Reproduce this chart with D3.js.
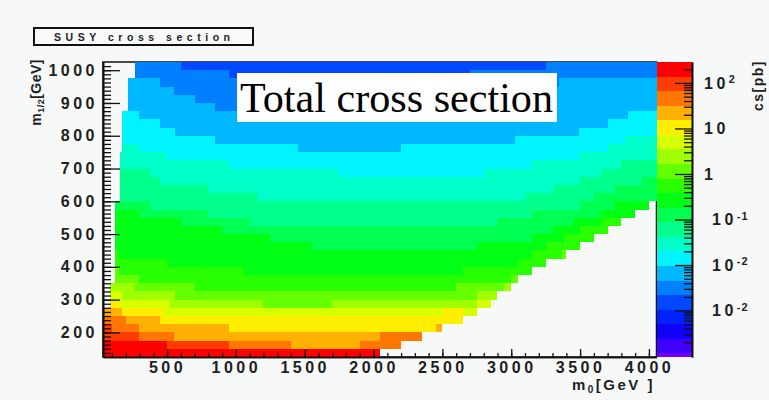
<!DOCTYPE html>
<html>
<head>
<meta charset="utf-8">
<script src="https://cdn.jsdelivr.net/npm/d3@7"></script>
<style>
  body { margin: 0; background: #f6f9f8; }
  svg { display: block; }
  .lbl { font-family: "Liberation Sans", Arial, sans-serif; font-weight: bold; font-size: 16px; fill: #1e1e1e; letter-spacing: 3.5px; }
</style>
</head>
<body>
<div id="chart"></div>
<script>
// axis ticks
const m0Ticks = [500, 1000, 1500, 2000, 2500, 3000, 3500, 4000];
const m12Ticks = [200, 300, 400, 500, 600, 700, 800, 900, 1000];
const csTicks = [1e2, 10, 1, 1e-1, 1e-2, 1e-3];
const csTickLabels = [['10', '2'], ['10', ''], ['1', ''], ['10', '-1'], ['10', '-2'], ['10', '-2']];

// m1/2 rows: lower edge of each 25 GeV row
const m12Rows = d3.range(125, 1025, 25);

// one entry per row (bottom to top): m0 start, then pairs of (contour level, m0 end)
// level 0 = lowest band of the palette, 20 = highest (red)
const rowSegments = [
  [35, 20, 2050],
  [35, 20, 500, 19, 950, 18, 1400, 17, 1900, 18, 2200],
  [35, 19, 300, 18, 550, 17, 2050, 18, 2350],
  [35, 19, 100, 18, 300, 17, 950, 16, 2450, 17, 2500],
  [35, 18, 200, 17, 450, 16, 2650],
  [35, 17, 170, 16, 480, 15, 2500, 16, 2650, 15, 2750],
  [85, 16, 160, 15, 520, 14, 1200, 13, 1700, 14, 2750, 15, 2850],
  [85, 15, 170, 14, 560, 13, 2750, 14, 2900],
  [85, 14, 270, 13, 700, 12, 2600, 13, 2950, 14, 3000],
  [120, 13, 300, 12, 3000, 13, 3050],
  [120, 13, 150, 12, 1050, 11, 2650, 12, 3150],
  [120, 12, 500, 11, 3050, 12, 3250],
  [120, 12, 150, 11, 3150, 12, 3370, 13, 3400],
  [120, 11, 1550, 10, 2750, 11, 3250, 12, 3500],
  [120, 11, 1250, 10, 3150, 11, 3380, 12, 3600],
  [120, 11, 900, 10, 3300, 11, 3500, 12, 3700],
  [120, 11, 600, 10, 1100, 9, 2900, 10, 3450, 11, 3650, 12, 3800],
  [120, 11, 300, 10, 800, 9, 3150, 10, 3650, 11, 3900],
  [120, 10, 375, 9, 3500, 10, 3750, 11, 4000],
  [160, 9, 1150, 8, 3100, 9, 3600, 10, 4055],
  [160, 9, 800, 8, 3300, 9, 3750, 10, 4055],
  [160, 9, 450, 8, 3500, 9, 3950, 10, 4055],
  [160, 9, 375, 8, 1750, 7, 2800, 8, 3650, 9, 4055],
  [160, 8, 950, 7, 3150, 8, 3800, 9, 4055],
  [160, 8, 500, 7, 3500, 8, 4055],
  [175, 8, 300, 7, 1450, 6, 2200, 7, 3700, 8, 4055],
  [175, 7, 850, 6, 3030, 7, 3825, 8, 4055],
  [175, 7, 560, 6, 3490, 7, 4055],
  [175, 7, 450, 6, 3700, 7, 4055],
  [175, 7, 300, 6, 3850, 7, 4055],
  [215, 6, 850, 5, 3000, 6, 4055],
  [215, 6, 700, 5, 3250, 6, 4055],
  [215, 6, 550, 5, 3250, 6, 4055],
  [215, 6, 450, 5, 3350, 6, 4055],
  [265, 5, 950, 4, 2700, 5, 4055],
  [265, 5, 600, 4, 3250, 5, 4055]
];

const palette = ['#7000ff', '#4000ff', '#1000ff', '#0022ff', '#0048ff', '#0080ff', '#00b8ff',
  '#00f4ff', '#00ffc8', '#00ff8c', '#00ff50', '#00ff14', '#28ff00', '#64ff00', '#a0ff00',
  '#d8ff00', '#ffee00', '#ffb000', '#ff7600', '#ff3c00', '#ff0000'];

const width = 769;
const height = 400;
const frame = { left: 103, right: 656.5, top: 62, bottom: 357 };
const bar = { left: 657, right: 692 };

// log10 range of the colour axis and its contour step
const zMinLog = -4.02;
const zMaxLog = 2.46;
const zStep = 0.32;
const zThresholds = d3.range(1, palette.length).map(k => zMaxLog - zStep * (palette.length - k));

const x = d3.scaleLinear().domain([35, 4055]).range([frame.left, frame.right]);
const y = d3.scaleLinear().domain([125, 1025]).range([frame.bottom, frame.top]);
const z = d3.scaleLog().domain([10 ** zMinLog, 10 ** zMaxLog]).range([frame.bottom, frame.top]);
const color = d3.scaleThreshold().domain(zThresholds).range(palette);

const levelLog = lvl => lvl === 0 ? zMinLog : zThresholds[lvl - 1] + zStep / 2;

const svg = d3.select('#chart')
  .append('svg')
  .attr('width', width)
  .attr('height', height);

svg.append('rect')
  .attr('width', width)
  .attr('height', height)
  .attr('fill', '#f6f9f8');

// title box
svg.append('rect')
  .attr('x', 34).attr('y', 28)
  .attr('width', 219).attr('height', 17)
  .attr('fill', '#f8faf9')
  .attr('stroke', '#111')
  .attr('stroke-width', 2);
svg.append('text')
  .attr('x', 54).attr('y', 41)
  .attr('textLength', 176)
  .attr('lengthAdjust', 'spacing')
  .style('font-family', '"Liberation Sans", Arial, sans-serif')
  .style('font-weight', 'bold')
  .style('font-size', '10.5px')
  .style('fill', '#1e1e1e')
  .text('SUSY cross section');

// frame (cells are painted over it)
svg.append('rect')
  .attr('x', frame.left).attr('y', frame.top)
  .attr('width', frame.right - frame.left)
  .attr('height', frame.bottom - frame.top)
  .attr('fill', 'none')
  .attr('stroke', '#111')
  .attr('stroke-width', 1.5);

// cells
const cells = [];
rowSegments.forEach((seg, k) => {
  let start = seg[0];
  for (let i = 1; i < seg.length; i += 2) {
    cells.push({ m12: m12Rows[k], m0a: start, m0b: seg[i + 1], level: seg[i] });
    start = seg[i + 1];
  }
});

svg.append('g')
  .attr('shape-rendering', 'crispEdges')
  .selectAll('rect')
  .data(cells)
  .enter()
  .append('rect')
  .attr('x', d => x(d.m0a))
  .attr('width', d => x(d.m0b) - x(d.m0a))
  .attr('y', d => y(d.m12 + 25))
  .attr('height', d => y(d.m12) - y(d.m12 + 25))
  .attr('fill', d => color(levelLog(d.level)));

// colour bar
const bands = palette.map((c, j) => ({
  lo: j === 0 ? zMinLog : zThresholds[j - 1],
  hi: j === palette.length - 1 ? zMaxLog : zThresholds[j]
}));
svg.append('g')
  .attr('shape-rendering', 'crispEdges')
  .selectAll('rect')
  .data(bands)
  .enter()
  .append('rect')
  .attr('x', bar.left)
  .attr('width', bar.right - bar.left)
  .attr('y', d => z(10 ** d.hi))
  .attr('height', d => z(10 ** d.lo) - z(10 ** d.hi))
  .attr('fill', d => color((d.lo + d.hi) / 2));

function styleAxis(g) {
  g.selectAll('path').attr('stroke', '#111').attr('stroke-width', 1.6);
  g.selectAll('line').attr('stroke', '#111').attr('stroke-width', 1.3);
  g.selectAll('text').attr('class', 'lbl').attr('font-size', null).attr('font-family', null);
}

// x axis
svg.append('g')
  .attr('transform', `translate(0,${frame.bottom})`)
  .call(d3.axisBottom(x).tickValues(d3.range(100, 4055, 100)).tickSize(-4).tickSizeOuter(0).tickFormat(''))
  .call(styleAxis);
svg.append('g')
  .attr('transform', `translate(0,${frame.bottom})`)
  .call(d3.axisBottom(x).tickValues(m0Ticks).tickSize(-8).tickSizeOuter(0).tickPadding(5).tickFormat(d3.format('d')))
  .call(styleAxis);

// y axis
svg.append('g')
  .attr('transform', `translate(${frame.left},0)`)
  .call(d3.axisLeft(y).tickValues(d3.range(137.5, 1025, 12.5)).tickSize(-8).tickSizeOuter(0).tickFormat(''))
  .call(styleAxis);
svg.append('g')
  .attr('transform', `translate(${frame.left},0)`)
  .call(d3.axisLeft(y).tickValues(m12Ticks).tickSize(-17).tickSizeOuter(0).tickPadding(5).tickFormat(d3.format('d')))
  .call(styleAxis);

// colour axis
const csMinor = [];
for (let e = -4; e <= 2; e++) {
  for (let m = 2; m <= 9; m++) {
    const v = m * 10 ** e;
    if (v > 10 ** zMinLog && v < 10 ** zMaxLog) csMinor.push(v);
  }
}
svg.append('g')
  .attr('transform', `translate(${bar.right},0)`)
  .call(d3.axisRight(z).tickValues(csMinor).tickSize(-8).tickSizeOuter(0).tickFormat(''))
  .call(styleAxis);
svg.append('g')
  .attr('transform', `translate(${bar.right},0)`)
  .call(d3.axisRight(z).tickValues(csTicks).tickSize(-17).tickSizeOuter(0).tickFormat(''))
  .call(styleAxis);

csTicks.forEach((v, i) => {
  const [base, sup] = csTickLabels[i];
  const t = svg.append('text')
    .attr('class', 'lbl')
    .attr('x', bar.right + (sup.startsWith('-') ? 20 : 12))
    .attr('y', z(v))
    .attr('dy', '0.36em');
  t.append('tspan').text(base);
  if (sup) {
    t.append('tspan')
      .attr('dy', '-0.5em')
      .style('font-size', '11px')
      .style('letter-spacing', '1px')
      .text(sup);
  }
});

// axis titles
const yTitle = svg.append('text')
  .attr('transform', 'translate(41,59) rotate(-90)')
  .attr('text-anchor', 'end')
  .attr('class', 'lbl')
  .style('font-size', '14px')
  .style('letter-spacing', '0.5px');
yTitle.append('tspan').text('m');
yTitle.append('tspan').attr('dy', '3').style('font-size', '9px').text('1/2');
yTitle.append('tspan').attr('dy', '-3').text('[GeV]');

const xTitle = svg.append('text')
  .attr('x', 655)
  .attr('y', 390)
  .attr('text-anchor', 'end')
  .attr('class', 'lbl')
  .style('font-size', '15px')
  .style('letter-spacing', '2.5px');
xTitle.append('tspan').text('m');
xTitle.append('tspan').attr('dy', '3').style('font-size', '10px').text('0');
xTitle.append('tspan').attr('dy', '-3').text('[GeV ]');

svg.append('text')
  .attr('transform', 'translate(763,60) rotate(-90)')
  .attr('text-anchor', 'end')
  .attr('class', 'lbl')
  .style('font-size', '14px')
  .style('letter-spacing', '1.5px')
  .text('cs[pb]');

// overlay label
svg.append('rect')
  .attr('x', 237).attr('y', 73)
  .attr('width', 320).attr('height', 49)
  .attr('fill', '#ffffff');
svg.append('text')
  .attr('x', 240)
  .attr('y', 112)
  .attr('textLength', 313)
  .attr('lengthAdjust', 'spacingAndGlyphs')
  .style('font-family', '"Liberation Serif", "Times New Roman", serif')
  .style('font-size', '42px')
  .style('fill', '#000')
  .text('Total cross section');
</script>
</body>
</html>
